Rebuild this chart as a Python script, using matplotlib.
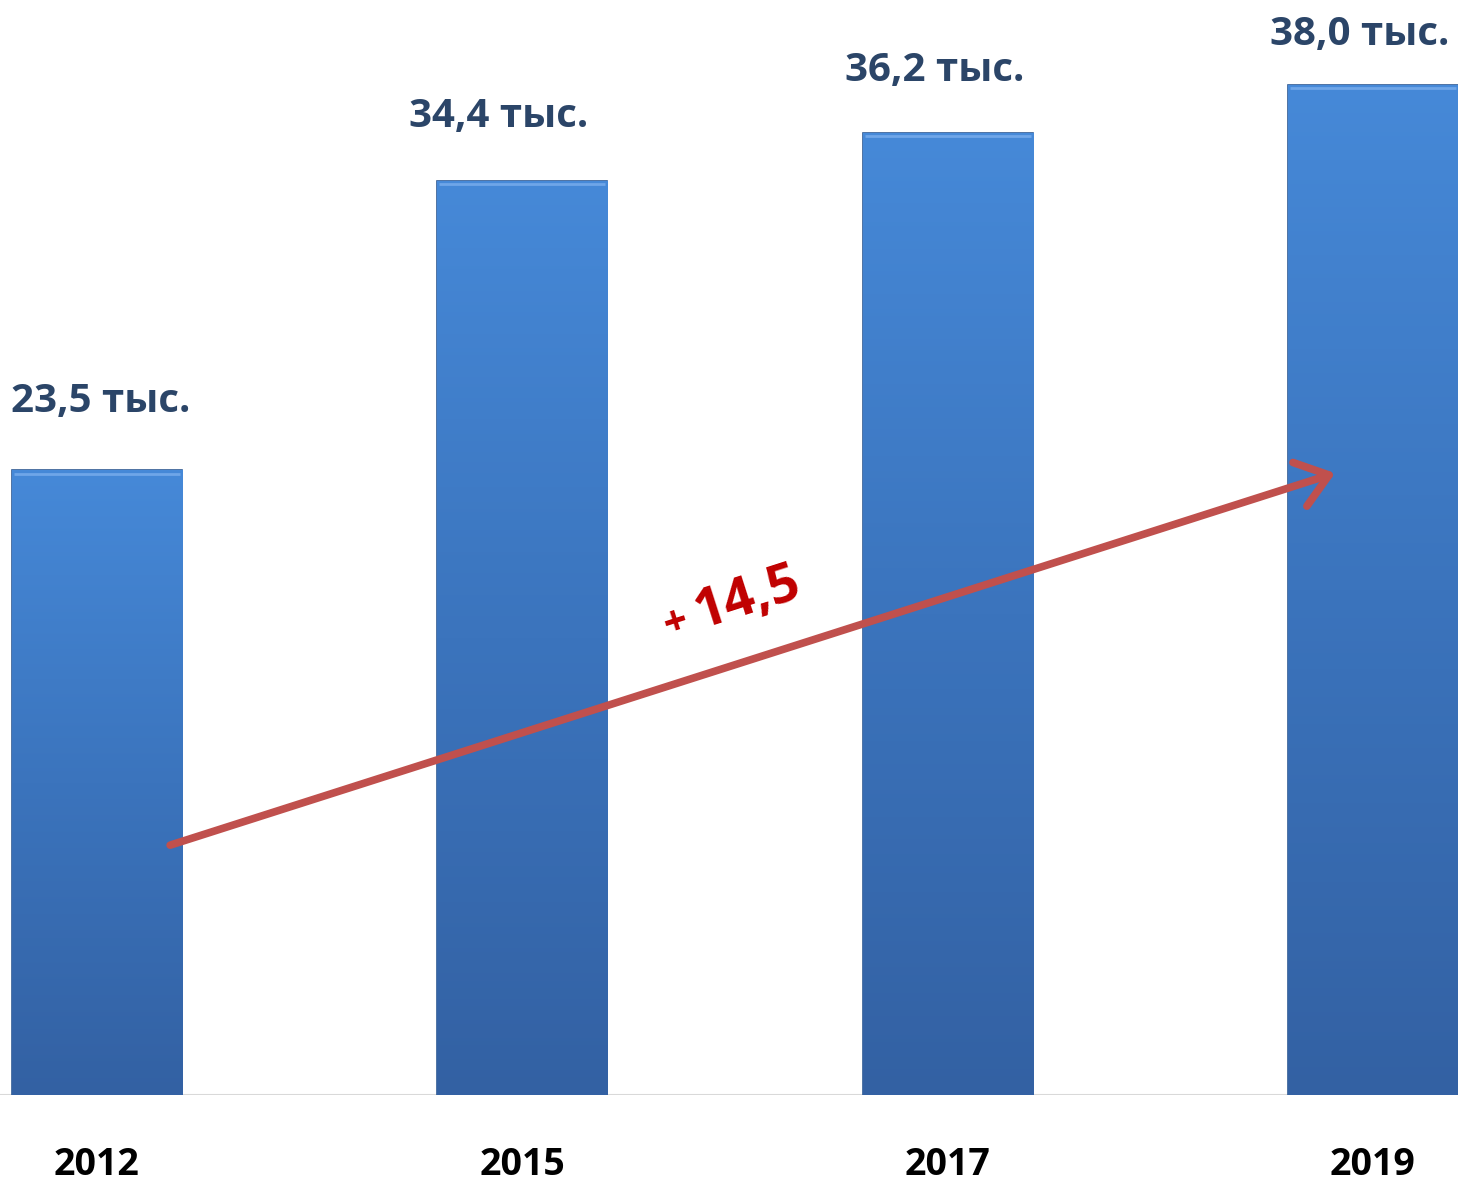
import numpy as np
import matplotlib
matplotlib.use("Agg")
import matplotlib.pyplot as plt
from matplotlib.colors import LinearSegmentedColormap

years = ["2012", "2015", "2017", "2019"]
values = [23.5, 34.4, 36.2, 38.0]
value_labels = ["23,5 тыс.", "34,4 тыс.", "36,2 тыс.", "38,0 тыс."]
growth_label = "14,5"

FONT = ["Open Sans", "DejaVu Sans"]
plt.rcParams["font.family"] = FONT

fig = plt.figure(figsize=(14.58, 11.82), dpi=100)
ax = fig.add_axes([0, 1 - 1095 / 1182, 1, 1095 / 1182])
ax.set_xlim(-0.228, 3.2)
ax.set_ylim(0, 41.2)

x = np.arange(len(years))
bars = ax.bar(x, values, width=0.40, color="#3F7DCB", edgecolor="#2F5A94",
              linewidth=1.2, zorder=2)

cmap = LinearSegmentedColormap.from_list("g", ["#3361A3", "#3B74BD", "#4689D8"])
grad = np.linspace(0, 1, 256).reshape(-1, 1)
for b in bars:
    x0, y0, w, h = b.get_x(), b.get_y(), b.get_width(), b.get_height()
    im = ax.imshow(grad, extent=[x0, x0 + w, y0, y0 + h], origin="lower",
                   cmap=cmap, aspect="auto", zorder=2.5)
    im.set_clip_path(b)
    ax.plot([x0 + 0.005, x0 + w - 0.005], [y0 + h - 0.12, y0 + h - 0.12],
            color="#6FA6E8", lw=2, zorder=3, solid_capstyle="butt")

ax.set_xlim(-0.228, 3.2)
ax.set_ylim(0, 41.2)

# label offsets in pixels (dx, dy above bar top)
offsets = [(4, 58), (-24, 54), (-13, 52), (-13, 40)]
for xi, v, lab, (dx, dy) in zip(x, values, value_labels, offsets):
    ax.annotate(lab, (xi, v), xytext=(dx * 0.72, dy * 0.72), textcoords="offset points",
                ha="center", va="baseline", fontsize=29, fontweight="bold",
                color="#2B4568", zorder=5)

ax.axhline(0, color="#D9D9D9", lw=1.5, zorder=1)

ax.annotate("", xy=(2.911, 23.4), xytext=(0.172, 9.4),
            arrowprops=dict(arrowstyle="->,head_length=1.0,head_width=0.75",
                            color="#C0504D", lw=5.5, mutation_scale=22,
                            shrinkA=0, shrinkB=0, capstyle="round",
                            joinstyle="round"), zorder=6)

ax.text(1.53, 18.7, growth_label, rotation=17.8, rotation_mode="anchor",
        ha="center", va="center", fontsize=39, fontweight="bold",
        color="#C00000", zorder=7)
ax.text(1.36, 17.7, "+", rotation=17.8, rotation_mode="anchor",
        ha="center", va="center", fontsize=30, fontweight="bold",
        color="#C00000", zorder=7)

ax.set_xticks(x)
ax.set_xticklabels(years, fontsize=27, fontweight="bold", color="#000000")
ax.tick_params(axis="x", length=0, pad=37)
ax.set_yticks([])
for s in ax.spines.values():
    s.set_visible(False)

fig.savefig("out.png", dpi=100, facecolor="white")
